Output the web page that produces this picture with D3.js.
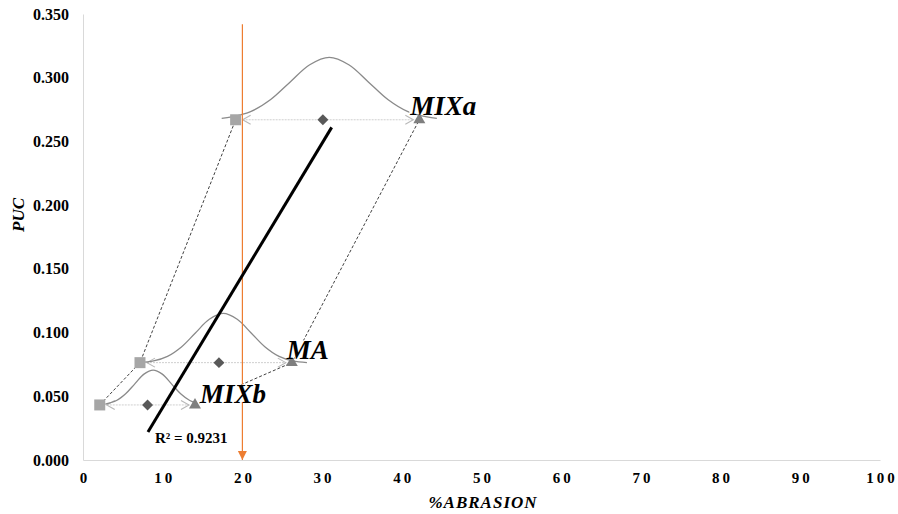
<!DOCTYPE html>
<html>
<head>
<meta charset="utf-8">
<script src="https://d3js.org/d3.v7.min.js"></script>
<style>
  body { margin: 0; background: #fff; }
  text { font-family: "Liberation Serif", "Times New Roman", serif; }
</style>
</head>
<body>
<div id="chart"></div>
<script>
// mixes, bottom to top
const mixes = ["MIXb", "MA", "MIXa"];
const pucValues = [0.0432, 0.0764, 0.267];
const minAbrasion = [2.1, 7.15, 19.15];
const meanAbrasion = [8.1, 17.06, 30.1];
const maxAbrasion = [14.05, 26.2, 42.2];

// bell curves, [abrasion, puc]
const curveMIXb = [[2.8, 0.0439], [4.2, 0.0467], [5.35, 0.0520], [6.5, 0.0597], [7.65, 0.0674], [8.8, 0.0706],
                   [9.95, 0.0674], [11.1, 0.0597], [12.25, 0.0520], [13.4, 0.0467], [14.3, 0.0445]];
const curveMA = [[7.1, 0.0764], [8.85, 0.0777], [10.6, 0.0813], [12.35, 0.0887], [14.1, 0.0997], [15.85, 0.1104], [17.6, 0.115],
                 [19.35, 0.1104], [21.1, 0.0997], [22.85, 0.0887], [24.6, 0.0813], [26.35, 0.0777], [28.1, 0.0764]];
const curveMIXa = [[17.4, 0.2681], [18.65, 0.2692], [21.1, 0.2736], [23.55, 0.2829], [26.0, 0.2967], [28.45, 0.3102], [30.9, 0.316],
                   [33.35, 0.3102], [35.8, 0.2967], [38.25, 0.2829], [40.7, 0.2736], [43.15, 0.2692], [44.4, 0.2681]];
const curves = [curveMIXb, curveMA, curveMIXa];

// linear trend
const trendX = [8.15, 31.2];
const trendSlope = 0.01037;
const trendIntercept = -0.0625;
const trendLabel = "R² = 0.9231";

// orange marker line at 20 %
const limitX = 20;
const limitTop = 0.342;

const xTicks = [0, 10, 20, 30, 40, 50, 60, 70, 80, 90, 100];
const yTicks = [0, 0.05, 0.1, 0.15, 0.2, 0.25, 0.3, 0.35];

const W = 898, H = 514;
const svg = d3.select("#chart").append("svg")
    .attr("width", W)
    .attr("height", H);

const x = d3.scaleLinear().domain([0, 100]).range([83, 880]);
const y = d3.scaleLinear().domain([0, 0.35]).range([460, 14]);

const defs = svg.append("defs");
defs.append("marker")
    .attr("id", "chev")
    .attr("viewBox", "-10 -6 12 12")
    .attr("refX", 0).attr("refY", 0)
    .attr("markerWidth", 12).attr("markerHeight", 12)
    .attr("markerUnits", "userSpaceOnUse")
    .attr("orient", "auto-start-reverse")
    .append("path")
    .attr("d", "M-8,-4.5L0,0L-8,4.5")
    .attr("fill", "none")
    .attr("stroke", "#b8b8b8")
    .attr("stroke-width", 1.1);
defs.append("marker")
    .attr("id", "orangeHead")
    .attr("viewBox", "0 -5 10 10")
    .attr("refX", 9).attr("refY", 0)
    .attr("markerWidth", 10).attr("markerHeight", 10)
    .attr("markerUnits", "userSpaceOnUse")
    .attr("orient", "auto")
    .append("path")
    .attr("d", "M0,-4.5L9,0L0,4.5Z")
    .attr("fill", "#ed7d31");

// axes
const yAxis = svg.append("g")
    .attr("transform", `translate(${x(0)},0)`)
    .call(d3.axisLeft(y).tickValues(yTicks).tickFormat(d3.format(".3f")).tickSize(0).tickSizeOuter(0).tickPadding(14));
yAxis.select(".domain").attr("stroke", "#d9d9d9");
yAxis.selectAll("text")
    .attr("font-family", "Liberation Serif")
    .attr("font-size", 16)
    .attr("font-weight", "bold")
    .attr("fill", "#000");

const xAxis = svg.append("g")
    .attr("transform", `translate(0,${y(0)})`)
    .call(d3.axisBottom(x).tickValues(xTicks).tickSize(0).tickSizeOuter(0).tickPadding(12));
xAxis.select(".domain").attr("stroke", "#d9d9d9");
xAxis.selectAll("text")
    .attr("font-family", "Liberation Serif")
    .attr("font-size", 15)
    .attr("font-weight", "bold")
    .attr("letter-spacing", "3px")
    .attr("dx", "1.5px")
    .attr("fill", "#000");

// axis titles
svg.append("text")
    .attr("x", 483).attr("y", 508)
    .attr("text-anchor", "middle")
    .attr("font-size", 17)
    .attr("font-weight", "bold")
    .attr("font-style", "italic")
    .attr("letter-spacing", "1px")
    .text("%ABRASION");
svg.append("text")
    .attr("transform", "translate(24,215) rotate(-90)")
    .attr("text-anchor", "middle")
    .attr("font-size", 17)
    .attr("font-weight", "bold")
    .attr("font-style", "italic")
    .text("PUC");

// dashed connectors between the mixes
const connect = d3.line().x(d => x(d[0])).y(d => y(d[1]));
[minAbrasion, maxAbrasion].forEach(arr => {
    svg.append("path")
        .attr("d", connect(arr.map((v, i) => [v, pucValues[i]])))
        .attr("fill", "none")
        .attr("stroke", "#404040")
        .attr("stroke-width", 1)
        .attr("stroke-dasharray", "3,2");
});

// horizontal range arrows
svg.append("g").selectAll("line")
    .data(mixes)
    .join("line")
    .attr("x1", (d, i) => x(minAbrasion[i]) + 7)
    .attr("x2", (d, i) => x(maxAbrasion[i]) - 6)
    .attr("y1", (d, i) => y(pucValues[i]))
    .attr("y2", (d, i) => y(pucValues[i]))
    .attr("stroke", "#cfcfcf")
    .attr("stroke-width", 1)
    .attr("stroke-dasharray", "2,1")
    .attr("marker-start", "url(#chev)")
    .attr("marker-end", "url(#chev)");

// bell curves
const bell = d3.line().x(d => x(d[0])).y(d => y(d[1])).curve(d3.curveCatmullRom);
svg.append("g").selectAll("path")
    .data(curves)
    .join("path")
    .attr("d", bell)
    .attr("fill", "none")
    .attr("stroke", "#8a8a8a")
    .attr("stroke-width", 1.3);

// orange line at 20 %
svg.append("line")
    .attr("x1", x(limitX)).attr("x2", x(limitX))
    .attr("y1", y(limitTop)).attr("y2", y(0))
    .attr("stroke", "#ed7d31")
    .attr("stroke-width", 1.2)
    .attr("marker-end", "url(#orangeHead)");

// trend line
svg.append("line")
    .attr("x1", x(trendX[0])).attr("y1", y(trendSlope * trendX[0] + trendIntercept))
    .attr("x2", x(trendX[1])).attr("y2", y(trendSlope * trendX[1] + trendIntercept))
    .attr("stroke", "#000")
    .attr("stroke-width", 3);
svg.append("text")
    .attr("x", x(trendX[0]) + 7)
    .attr("y", y(trendSlope * trendX[0] + trendIntercept) + 11)
    .attr("font-size", 15)
    .attr("font-weight", "bold")
    .text(trendLabel);

// markers
const pts = svg.append("g");
pts.selectAll(".sq").data(mixes).join("path").attr("class", "sq")
    .attr("d", d3.symbol(d3.symbolSquare, 121))
    .attr("transform", (d, i) => `translate(${x(minAbrasion[i])},${y(pucValues[i])})`)
    .attr("fill", "#a6a6a6");
pts.selectAll(".dm").data(mixes).join("path").attr("class", "dm")
    .attr("d", d3.symbol(d3.symbolSquare, 60))
    .attr("transform", (d, i) => `translate(${x(meanAbrasion[i])},${y(pucValues[i])}) rotate(45)`)
    .attr("fill", "#595959");
pts.selectAll(".tr").data(mixes).join("path").attr("class", "tr")
    .attr("d", d3.symbol(d3.symbolTriangle, 62))
    .attr("transform", (d, i) => `translate(${x(maxAbrasion[i])},${y(pucValues[i])})`)
    .attr("fill", "#7f7f7f");

// mix labels, offset from the triangle marker
const labelOffsets = [[5, -2], [-5, -4], [-9, -5]];
const fs = 27;
const labels = svg.append("g").selectAll("g")
    .data(mixes)
    .join("g")
    .attr("transform", (d, i) => `translate(${x(maxAbrasion[i]) + labelOffsets[i][0]},${y(pucValues[i]) + labelOffsets[i][1]})`);
labels.append("text")
    .attr("font-size", fs)
    .attr("font-weight", "bold")
    .attr("font-style", "italic")
    .text(d => d)
    .each(function () {
        const bb = this.getBBox();
        d3.select(this.parentNode).insert("rect", "text")
            .attr("x", bb.x)
            .attr("y", -fs * 0.68)
            .attr("width", bb.width)
            .attr("height", fs * 0.68 - 1)
            .attr("fill", "#fff");
    });
</script>
</body>
</html>
